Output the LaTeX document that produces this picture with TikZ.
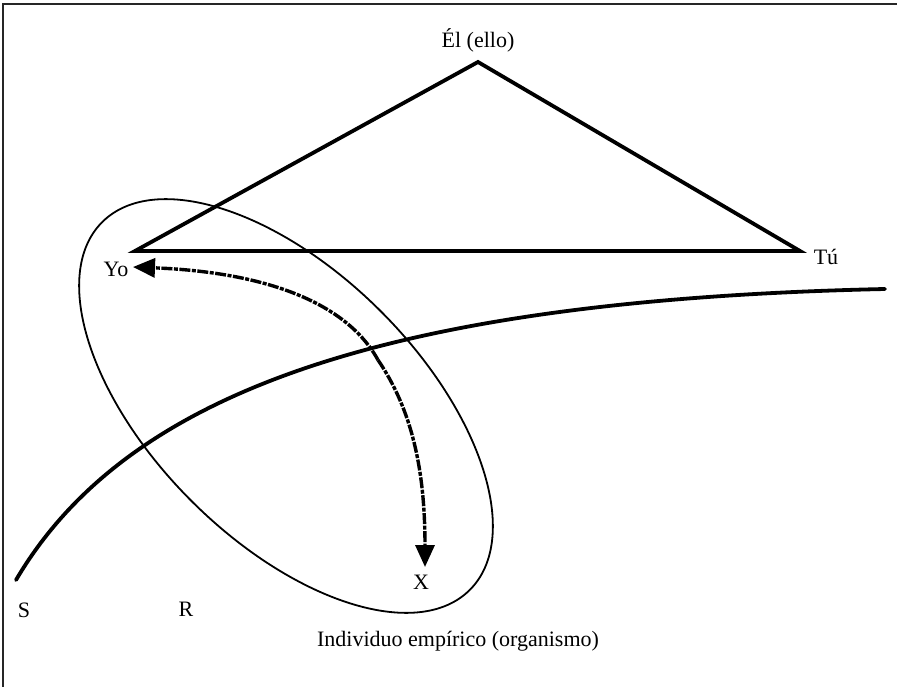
\documentclass[tikz,border=0pt]{standalone}
\usepackage{fontspec}
\setmainfont{Liberation Serif}
\usetikzlibrary{arrows.meta}
\begin{document}
\begin{tikzpicture}[x=1pt,y=-1pt,
  lbl/.style={font=\fontsize{22}{25}\selectfont, inner sep=0pt},
  tri/.style={line width=3.8pt, line join=miter},
  thin/.style={line width=1.8pt},
  darrow/.style={line width=3.4pt, dash pattern=on 11pt off 1.5pt on 4pt off 1.5pt,
    -{Triangle[length=22pt,width=19pt]}},
]
\useasboundingbox (0,0) rectangle (897,687);
\draw[line width=2pt, black!85] (2.5,687) -- (2.5,4.5) -- (897,4.5);
% triangle
\coordinate (el) at (478,62);
\coordinate (yo) at (135,251);
\coordinate (tu) at (800,251);
\draw[tri] (el) -- (yo) -- (tu) -- cycle;
% labels
\node[lbl] (lel) at (478,40) {Él (ello)};
\node[lbl] (lyo) at (116,269) {Yo};
\node[lbl] (ltu) at (826,257) {Tú};
\node[lbl] (ls) at (24,610) {S};
\node[lbl] (lr) at (186,609) {R};
\node[lbl] (lx) at (421,582) {X};
\node[lbl] (lind) at (458,641) {Individuo empírico (organismo)};
% ellipse
\draw[thin, rotate around={-45:(286,406)}] (286,406) ellipse [x radius=260, y radius=134];
% S curve
\coordinate (s0) at (16,580);
\coordinate (s1) at (885,289);
\draw[line width=3.8pt, line cap=round] (s0) .. controls (125,395) and (380,300) .. (s1);
% arrows
\coordinate (top) at (133,267);
\coordinate (bot) at (425,567);
\coordinate (mid) at (378,360);
\draw[darrow] (mid) .. controls (345,300) and (260,272) .. (top);
\draw[darrow] (mid) .. controls (412,410) and (425,470) .. (bot);
\end{tikzpicture}
\end{document}
